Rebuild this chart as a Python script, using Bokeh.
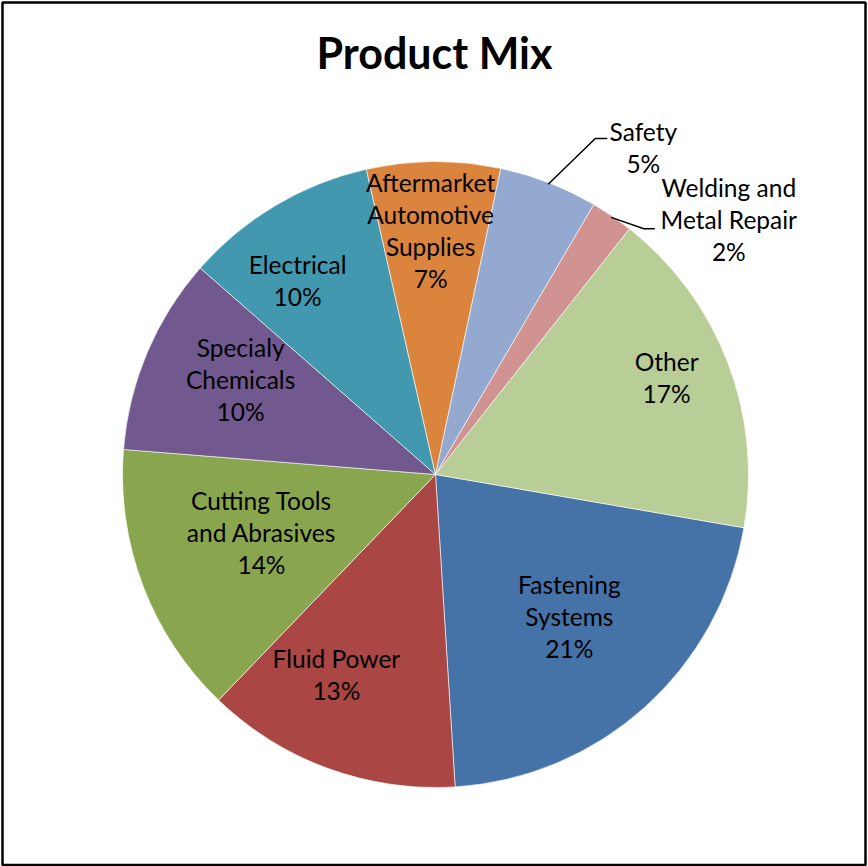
import math
from bokeh.plotting import figure
from bokeh.models import Range1d, ColumnDataSource
from bokeh.core.properties import value
from bokeh.embed import file_html
from bokeh.resources import INLINE

# ---------------- data ----------------
categories = ["Fastening Systems", "Fluid Power", "Cutting Tools and Abrasives",
              "Specialy Chemicals", "Electrical", "Aftermarket Automotive Supplies",
              "Safety", "Welding and Metal Repair", "Other"]
label_lines = [["Fastening", "Systems"], ["Fluid Power"], ["Cutting Tools", "and Abrasives"],
               ["Specialy", "Chemicals"], ["Electrical"], ["Aftermarket", "Automotive", "Supplies"],
               ["Safety"], ["Welding and", "Metal Repair"], ["Other"]]
shares = [21.3, 13.2, 14.1, 10.2, 10.0, 6.9, 5.1, 2.2, 17.1]
colors = ["#4572A7", "#AA4643", "#89A54E", "#71588F", "#4198AF",
          "#DB843D", "#93A9CF", "#D19392", "#B9CD96"]
title_text = "Product Mix"

# ---------------- layout ----------------
W, H = 868, 866
CX, CY = 435, 474          # pie centre (screen px, y down)
R = 313
FIRST_ANGLE = 99.8         # clockwise from 12 o'clock
# label placement: radius fraction and angular tweak from slice middle
label_r = [0.626, 0.716, 0.588, 0.690, 0.756, 0.775, 1.235, 1.239, 0.799]
label_dang = [-1.2, 6.1, 1.8, 2.6, -4.9, -0.8, 11.3, 14.8, -1.5]
# leader lines (elbow / end offsets from label centre, screen px) for outside labels
leaders = {6: ((-48, -10), (-36, -10)), 7: ((-85, 8), (-74, 8))}
LINE_H = 32
TEXT_SHIFT = -1.5          # baseline offset from line centre after renderer offset


def sy(y):
    return H - y


p = figure(width=W, height=H, output_backend="svg", toolbar_location=None,
           x_range=Range1d(0, W), y_range=Range1d(0, H), min_border=0)
p.axis.visible = False
p.xgrid.visible = False
p.ygrid.visible = False
p.outline_line_color = None
p.background_fill_color = "white"
p.border_fill_color = "white"

total = sum(shares)
theta0, theta1, mids = [], [], []
a = FIRST_ANGLE
for v in shares:
    d = v / total * 360.0
    theta0.append(a)
    theta1.append(a + d)
    mids.append(a + d / 2)
    a += d

src = ColumnDataSource(dict(
    cat=categories,
    start=[math.radians(90 - t) for t in theta1],
    end=[math.radians(90 - t) for t in theta0],
    color=colors,
))
p.wedge(x=CX, y=sy(CY), radius=R, start_angle="start", end_angle="end",
        direction="anticlock", fill_color="color",
        line_color="white", line_width=0.6, source=src)

# labels
tx, ty, tt = [], [], []
lx, ly = [], []
for i, (lines, v) in enumerate(zip(label_lines, shares)):
    ang = math.radians(mids[i] + label_dang[i])
    rr = R * label_r[i]
    cx = CX + rr * math.sin(ang)
    cy = CY - rr * math.cos(ang)
    all_lines = lines + [f"{round(v / total * 100)}%"]
    n = len(all_lines)
    for k, s in enumerate(all_lines):
        base = cy + (k - (n - 1) / 2) * LINE_H + TEXT_SHIFT
        tx.append(cx)
        ty.append(sy(base))
        tt.append(s)
    if i in leaders:
        m = math.radians(mids[i])
        x0 = CX + R * 0.995 * math.sin(m)
        y0 = CY - R * 0.995 * math.cos(m)
        (ex, ey), (fx, fy) = leaders[i]
        lx.append([x0, cx + ex, cx + fx])
        ly.append([sy(y0), sy(cy + ey), sy(cy + fy)])

p.multi_line(xs=lx, ys=ly, line_color="black", line_width=1.5)
p.text(x=tx, y=ty, text=tt, text_font=value("Lato"), text_font_size=value("24.5px"),
       text_align="center", text_baseline="alphabetic", text_color="#000000")

# title
p.text(x=[434], y=[sy(52)], text=[title_text], text_font=value("Lato"),
       text_font_size=value("43px"), text_font_style="bold",
       text_align="center", text_baseline="alphabetic", text_color="#000000")

# chart border
p.quad(left=[2], right=[865], bottom=[sy(864.5)], top=[sy(2)],
       fill_color=None, line_color="black", line_width=2.5)

open("out.html", "w").write(file_html(p, INLINE))
